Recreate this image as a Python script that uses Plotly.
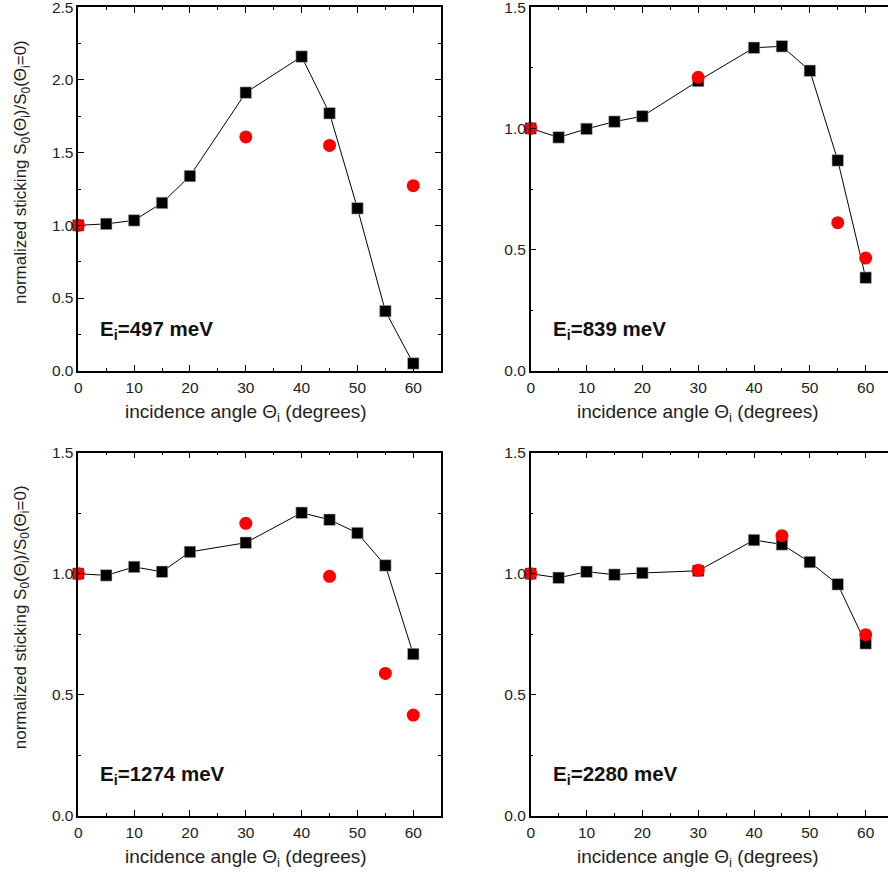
import plotly.graph_objects as go

# ---------------- data ----------------
angles = [0, 5, 10, 15, 20, 30, 40, 45, 50, 55, 60]

sq_497 = [1.00, 1.01, 1.034, 1.154, 1.339, 1.913, 2.161, 1.771, 1.117, 0.41, 0.05]
rd_x_497 = [0, 30, 45, 60]
rd_497 = [1.00, 1.608, 1.55, 1.273]

sq_839 = [1.00, 0.963, 0.998, 1.028, 1.05, 1.196, 1.333, 1.339, 1.238, 0.868, 0.384]
rd_x_839 = [0, 30, 55, 60]
rd_839 = [1.00, 1.211, 0.611, 0.465]

sq_1274 = [1.00, 0.993, 1.028, 1.008, 1.09, 1.128, 1.252, 1.223, 1.168, 1.034, 0.668]
rd_x_1274 = [0, 30, 45, 55, 60]
rd_1274 = [1.00, 1.208, 0.989, 0.588, 0.416]

sq_2280 = [1.00, 0.983, 1.008, 0.996, 1.003, 1.012, 1.139, 1.121, 1.048, 0.956, 0.712]
rd_x_2280 = [0, 30, 45, 60]
rd_2280 = [1.00, 1.014, 1.157, 0.748]

panel_labels = ["<b>E<sub>i</sub>=497 meV</b>", "<b>E<sub>i</sub>=839 meV</b>",
                "<b>E<sub>i</sub>=1274 meV</b>", "<b>E<sub>i</sub>=2280 meV</b>"]
y_max = [2.5, 1.5, 1.5, 1.5]
x_title = "incidence angle \u0398<sub>i</sub> (degrees)"
y_title = "normalized sticking S<sub>0</sub>(\u0398<sub>i</sub>)/S<sub>0</sub>(\u0398<sub>i</sub>=0)"

# ---------------- layout geometry (pixels) ----------------
# The original figure is cropped on the right; the canvas is slightly wider
# than the 888px window so the right-hand frames fall just outside the view.
W, H = 896, 875
FONT = "Liberation Sans, Arial, sans-serif"

panels = [
    dict(sq=sq_497, rx=rd_x_497, ry=rd_497, x0=78.3, x1=441.2, ytop=7.3, ybot=370.7),
    dict(sq=sq_839, rx=rd_x_839, ry=rd_839, x0=530.7, x1=893.6, ytop=7.3, ybot=370.7),
    dict(sq=sq_1274, rx=rd_x_1274, ry=rd_1274, x0=78.3, x1=441.2, ytop=452.7, ybot=815.7),
    dict(sq=sq_2280, rx=rd_x_2280, ry=rd_2280, x0=530.7, x1=893.6, ytop=452.7, ybot=815.7),
]
x_max = 65

fig = go.Figure()
layout = dict(
    width=W, height=H,
    margin=dict(l=0, r=0, t=0, b=0),
    paper_bgcolor="white", plot_bgcolor="white",
    showlegend=False,
    font=dict(family=FONT, color="#222222", size=15.5),
)
annotations = []

for i, p in enumerate(panels):
    n = "" if i == 0 else str(i + 1)
    xa, ya = "x" + n, "y" + n
    fig.add_trace(go.Scatter(
        x=angles, y=p["sq"], xaxis=xa, yaxis=ya, mode="lines+markers",
        line=dict(color="black", width=1),
        marker=dict(symbol="square", size=11.5, color="black",
                    line=dict(color="#bbbbbb", width=0.6)),
        cliponaxis=False,
    ))
    fig.add_trace(go.Scatter(
        x=p["rx"], y=p["ry"], xaxis=xa, yaxis=ya, mode="markers",
        marker=dict(symbol="circle", size=13, color="#ff0000", line=dict(width=0)),
        cliponaxis=False,
    ))
    common = dict(
        automargin=False, ticklabeloverflow="allow",
        showgrid=False, zeroline=False, showline=True, linecolor="black", linewidth=1.5,
        mirror="allticks", ticks="inside", ticklen=6, tickwidth=1, tickcolor="black",
        tickfont=dict(family=FONT, size=15.5, color="#222222"),
    )
    layout["xaxis" + n] = dict(
        common, domain=[p["x0"] / W, p["x1"] / W], range=[0, x_max],
        anchor=ya, tick0=0, dtick=10, ticklabelstandoff=2,
        minor=dict(ticks="inside", ticklen=3, tickwidth=1, tickcolor="black", dtick=5, tick0=0),
    )
    layout["yaxis" + n] = dict(
        common, domain=[1 - p["ybot"] / H, 1 - p["ytop"] / H], range=[0, y_max[i]],
        anchor=xa, tick0=0, dtick=0.5, tickformat=".1f",
        minor=dict(ticks="inside", ticklen=3, tickwidth=1, tickcolor="black", dtick=0.25, tick0=0),
    )
    # panel energy label
    annotations.append(dict(
        text=panel_labels[i], xref="paper", yref="paper",
        x=(p["x0"] + 20) / W, y=1 - (p["ybot"] - 41) / H,
        xanchor="left", yanchor="middle", showarrow=False,
        font=dict(family=FONT, size=20.5, color="#111111"),
    ))
    # x-axis title
    annotations.append(dict(
        text=x_title, xref="paper", yref="paper",
        x=(p["x0"] + 30 * 5.585) / W, y=1 - (p["ybot"] + 42) / H,
        xanchor="center", yanchor="middle", showarrow=False,
        font=dict(family=FONT, size=19, color="#222222"),
    ))
    if i % 2 == 0:
        annotations.append(dict(
            text=y_title, xref="paper", yref="paper", textangle=-90,
            x=22 / W, y=1 - ((p["ytop"] + p["ybot"]) / 2 - 17) / H,
            xanchor="center", yanchor="middle", showarrow=False,
            font=dict(family=FONT, size=17, color="#222222"),
        ))

layout["annotations"] = annotations
fig.update_layout(**layout)
fig.write_html("out.html",
               config={"displayModeBar": False},
               post_script="document.body.style.margin='0';document.body.style.overflow='hidden';")
